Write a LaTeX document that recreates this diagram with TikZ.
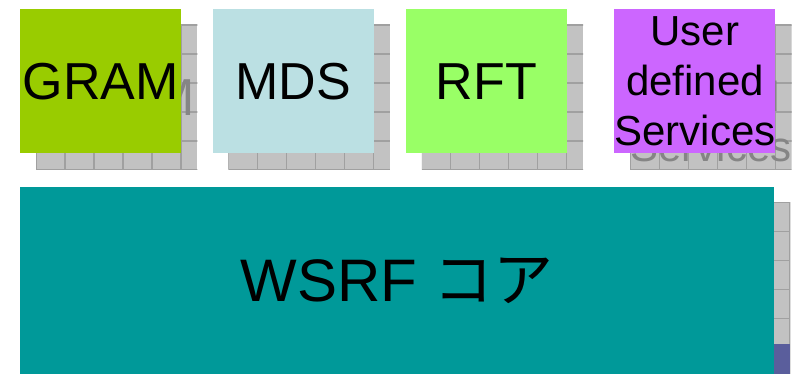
\documentclass[tikz,border=0pt]{standalone}
\usepackage{fontspec}
\setmainfont{Liberation Sans}
\newfontfamily\cjk{Noto Sans CJK JP}
\usetikzlibrary{positioning, backgrounds}

\definecolor{gramgreen}{HTML}{99CC00}
\definecolor{mdsblue}{HTML}{BBE0E3}
\definecolor{rftgreen}{HTML}{99FF66}
\definecolor{userviolet}{HTML}{CC66FF}
\definecolor{coreteal}{HTML}{009999}
\definecolor{tilegray}{HTML}{C2C2C2}
\definecolor{tileline}{HTML}{A0A0A0}
\definecolor{ghostgray}{HTML}{858585}
\definecolor{slateblue}{HTML}{5A5E9C}

\tikzstyle{svcbox} = [
  rectangle,
  minimum width=161pt,
  minimum height=144pt,
  inner sep=0,
  text centered,
  font=\fontsize{52}{60}\selectfont
]
\tikzstyle{userfont} = [
  align=center,
  font=\fontsize{42}{50}\selectfont
]
\tikzstyle{corebox} = [
  rectangle,
  minimum width=754pt,
  minimum height=188pt,
  inner sep=0,
  text centered,
  fill=coreteal,
  font=\fontsize{60}{70}\selectfont
]
\tikzstyle{tilegrid} = [draw=tileline, line width=1.2pt]
\tikzstyle{ghosttext} = [text=ghostgray, inner sep=0]

% tiled shadow behind a box, with its text in gray
\newcommand{\tileshadow}[4]{%
  \coordinate (#1-snw) at ([shift={(16,16)}]#1.north west);
  \coordinate (#1-sse) at ([shift={(16,16)}]#1.south east);
  \begin{scope}
    \clip (#1-snw) rectangle (#1-sse);
    \fill[tilegray] (#1-snw) rectangle (#1-sse);
    \begin{scope}[shift={(#1-snw)}]
      \draw[tilegrid] (0pt,0pt) grid[step=29pt] (800pt,-400pt);
    \end{scope}
    #4
    \node[ghosttext, #2] at ([shift={(16,16)}]#1.center) {#3};
  \end{scope}}

\begin{document}
\begin{tikzpicture}[x=1pt, y=-1pt]
  \useasboundingbox (0,0) rectangle (792,374);

  \node [svcbox, fill=gramgreen, anchor=north west] (gram) at (20,9) {GRAM};
  \node [svcbox, fill=mdsblue, right=31pt of gram] (mds) {MDS};
  \node [svcbox, fill=rftgreen, right=32pt of mds] (rft) {RFT};
  \node [svcbox, fill=userviolet, right=47pt of rft, userfont] (user) {User\\defined\\Services};
  \node [corebox, below=33pt of gram.south west, anchor=north west] (wsrf) {WSRF {\cjk コア}};

  \begin{scope}[on background layer]
    \tileshadow{gram}{font=\fontsize{52}{60}\selectfont}{GRAM}{}
    \tileshadow{mds}{font=\fontsize{52}{60}\selectfont}{MDS}{}
    \tileshadow{rft}{font=\fontsize{52}{60}\selectfont}{RFT}{}
    \tileshadow{user}{userfont}{User\\defined\\Services}{}
    \tileshadow{wsrf}{}{}{\fill[slateblue] ([yshift=47pt]wsrf-sse) rectangle (wsrf-sse -| wsrf-snw);}
  \end{scope}

\end{tikzpicture}
\end{document}
